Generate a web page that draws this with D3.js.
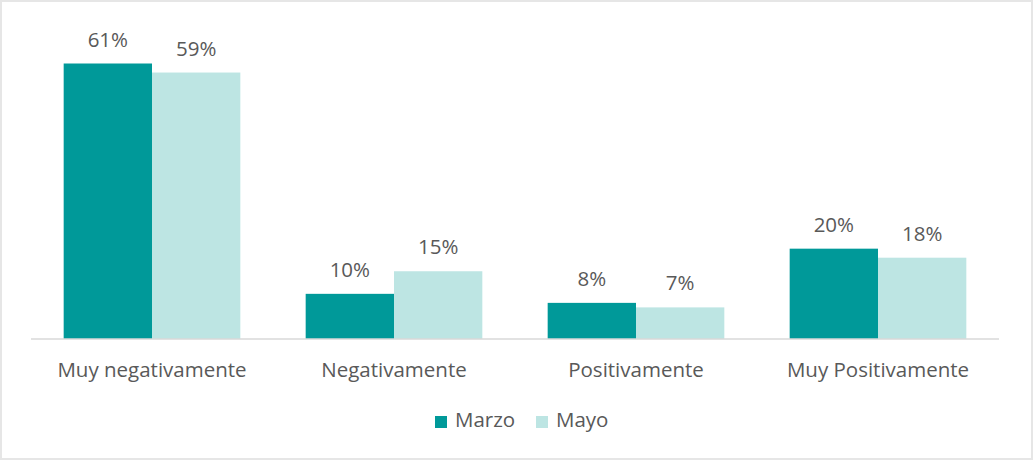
<!DOCTYPE html>
<html>
<head>
<meta charset="utf-8">
<script src="https://cdn.jsdelivr.net/npm/d3@7"></script>
<style>
  body { margin: 0; background: #fff; }
  svg text { font-family: "Open Sans", sans-serif; fill: #595959; }
</style>
</head>
<body>
<svg width="1034" height="461"></svg>
<script>
const categories = ['Muy negativamente', 'Negativamente', 'Positivamente', 'Muy Positivamente'];
const seriesNames = ['Marzo', 'Mayo'];
const marzo = [61, 10, 8, 20];
const mayo = [59, 15, 7, 18];
const colors = ['#009999', '#bde5e3'];

const svg = d3.select('svg');

// outer border
svg.append('rect')
  .attr('x', 1).attr('y', 1)
  .attr('width', 1031).attr('height', 458)
  .attr('fill', 'none')
  .attr('stroke', '#e6e6e6')
  .attr('stroke-width', 2);

const left = 31, right = 999, baseline = 339;

const x0 = d3.scaleBand()
  .domain(categories)
  .range([left, right])
  .paddingInner(0.27)
  .paddingOuter(0.135);

const x1 = d3.scaleBand()
  .domain(seriesNames)
  .range([0, x0.bandwidth()]);

const y = d3.scaleLinear()
  .domain([0, 61])
  .range([baseline, 63.5]);

const data = categories.map((c, i) => ({
  cat: c,
  vals: [{s: 'Marzo', v: marzo[i]}, {s: 'Mayo', v: mayo[i]}]
}));

const groups = svg.selectAll('g.cat')
  .data(data)
  .enter()
  .append('g')
  .attr('class', 'cat')
  .attr('transform', d => `translate(${x0(d.cat)},0)`);

groups.selectAll('rect')
  .data(d => d.vals)
  .enter()
  .append('rect')
  .attr('x', d => x1(d.s))
  .attr('y', d => y(d.v))
  .attr('width', x1.bandwidth())
  .attr('height', d => baseline - y(d.v))
  .attr('fill', (d, i) => colors[i]);

groups.selectAll('text.value')
  .data(d => d.vals)
  .enter()
  .append('text')
  .attr('class', 'value')
  .attr('x', d => x1(d.s) + x1.bandwidth() / 2)
  .attr('y', d => y(d.v) - 17)
  .attr('text-anchor', 'middle')
  .style('font-size', '20.5px')
  .text(d => `${d.v}%`);

// baseline axis
const xAxis = svg.append('g')
  .attr('transform', `translate(0,${baseline})`)
  .call(d3.axisBottom(x0).tickSize(0).tickPadding(23));
xAxis.select('.domain').attr('stroke', '#d9d9d9').attr('stroke-width', 1.5)
  .attr('d', `M${left},0H${right}`);
xAxis.selectAll('text')
  .style('font-size', '20.5px')
  .attr('fill', '#595959');

// legend
const legendX = [435, 536];
const legend = svg.selectAll('g.legend')
  .data(seriesNames)
  .enter()
  .append('g')
  .attr('class', 'legend')
  .attr('transform', (d, i) => `translate(${legendX[i]},416)`);

legend.append('rect')
  .attr('width', 12).attr('height', 12)
  .attr('fill', (d, i) => colors[i]);

legend.append('text')
  .attr('x', 20)
  .attr('y', 11)
  .style('font-size', '20.5px')
  .text(d => d);
</script>
</body>
</html>
